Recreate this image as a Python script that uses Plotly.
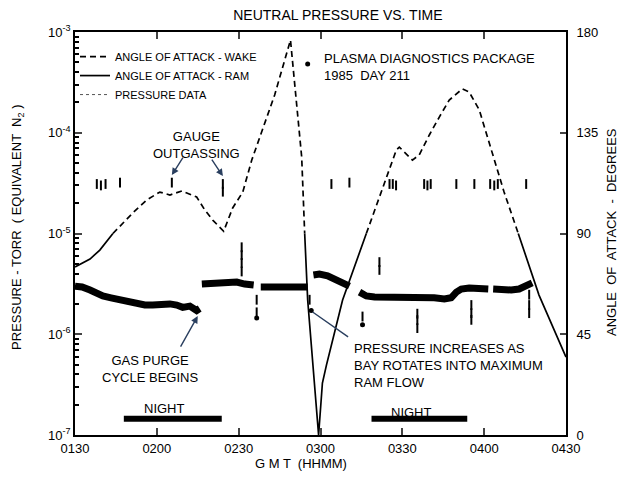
import plotly.graph_objects as go

# ---------------- data ----------------
tick_minutes = [90, 120, 150, 180, 210, 240, 270]
tick_labels = ["0130", "0200", "0230", "0300", "0330", "0400", "0430"]

# angle of attack (degrees) vs GMT minutes after 0000
aoa_time = [90.0, 95.5, 99.1, 101.7, 103.9, 111.2, 116.3, 121.1, 124.8, 129.2,
            134.6, 137.6, 140.5, 144.5, 147.8, 151.5, 154.8, 163.2, 169.0, 171.2,
            173.1, 174.2, 175.3, 179.3, 180.7, 182.2, 188.1, 196.8, 201.6, 207.8,
            208.9, 210.7, 213.7, 216.2, 219.9, 223.6, 227.2, 232.0, 234.5, 238.2,
            242.6, 247.3, 252.5, 260.1, 270.0]
aoa_deg = [75.0, 78.6, 82.6, 86.7, 90.0, 99.2, 105.0, 108.5, 107.2, 109.0,
           106.3, 100.5, 96.0, 91.0, 101.4, 108.5, 122.8, 151.9, 176.4, 149.6,
           124.2, 90.0, 60.3, 0.0, 23.2, 31.3, 60.3, 90.0, 105.9, 127.3,
           128.6, 126.4, 122.8, 125.1, 134.0, 142.1, 149.6, 154.6, 153.2, 145.2,
           127.3, 108.5, 90.0, 62.5, 34.8]

# continuous pressure record (torr), None = gap in record
band_time = [90.0, 92.6, 95.5, 98.0, 100.2, 103.2, 106.5, 109.4, 112.7, 115.6,
             118.5, 121.8, 124.8, 127.3, 129.5, 132.1, 134.6, 135.7, None,
             136.5, 139.4, 143.1, 146.0, 149.3, 152.2, 155.5, None,
             158.1, 161.3, 165.0, 168.7, 172.3, 175.3, None,
             177.4, 179.6, 182.6, 185.1, 187.7, 190.6, None,
             194.3, 196.8, 199.8, 203.4, 207.1, 210.7, 214.4, 218.0, 221.7,
             225.4, 227.9, 229.8, 231.6, 234.5, 238.2, 241.5, None,
             243.3, 246.2, 249.9, 252.8, 255.4, 257.6]
band_p = [3.0e-6, 2.95e-6, 2.75e-6, 2.55e-6, 2.4e-6, 2.3e-6, 2.2e-6, 2.1e-6, 2.0e-6, 1.95e-6,
          1.95e-6, 2.0e-6, 2.0e-6, 1.95e-6, 1.85e-6, 1.9e-6, 1.72e-6, 1.8e-6, None,
          3.15e-6, 3.2e-6, 3.15e-6, 3.3e-6, 3.3e-6, 3.15e-6, 3.08e-6, None,
          2.94e-6, 2.94e-6, 2.94e-6, 2.94e-6, 3.0e-6, 2.94e-6, None,
          3.87e-6, 3.95e-6, 3.8e-6, 3.55e-6, 3.23e-6, 3.0e-6, None,
          2.62e-6, 2.4e-6, 2.34e-6, 2.34e-6, 2.3e-6, 2.34e-6, 2.34e-6, 2.34e-6, 2.3e-6,
          2.24e-6, 2.3e-6, 2.62e-6, 2.81e-6, 2.88e-6, 2.81e-6, 2.81e-6, None,
          2.81e-6, 2.75e-6, 2.75e-6, 2.81e-6, 3.0e-6, 3.23e-6]

# scattered pressure readings (spikes)
spike_time = [98.0, 99.5, 101.2, 106.5, 125.5, 144.2, 144.2, 184.0, 190.6, 205.3,
              206.5, 207.7, 218.0, 219.2, 220.4, 229.8, 236.4, 242.2, 243.7, 245.0, 255.4,
              151.1, 151.1, 151.1, 151.1, 156.6, 156.6, 176.0, 201.6, 201.6,
              195.4, 215.5, 215.5, 215.5, 235.3, 235.3, 235.3, 256.5, 256.5, 256.5]
spike_p = [3.1e-5, 3.0e-5, 3.1e-5, 3.2e-5, 3.2e-5, 3.1e-5, 2.6e-5, 3.1e-5, 3.2e-5, 3.1e-5,
           3.1e-5, 3.0e-5, 3.1e-5, 3.0e-5, 3.1e-5, 3.1e-5, 3.1e-5, 3.1e-5, 3.0e-5, 3.1e-5, 3.1e-5,
           7.3e-6, 6.1e-6, 5.1e-6, 4.2e-6, 2.2e-6, 1.65e-6, 2.2e-6, 5.2e-6, 4.35e-6,
           1.5e-6, 1.6e-6, 1.38e-6, 1.15e-6, 1.95e-6, 1.62e-6, 1.39e-6, 2.47e-6, 1.95e-6, 1.62e-6]
blob_time = [156.6, 176.6, 195.4, 175.3]
blob_p = [1.45e-6, 1.72e-6, 1.24e-6, 4.8e-4]

night_start = [107.9, 198.7]
night_end = [143.8, 233.8]

# ---------------- figure ----------------
ram = [d if d <= 90 else None for d in aoa_deg]
wake = [d if d >= 90 else None for d in aoa_deg]

FONT = "Liberation Sans, Arial, sans-serif"
fig = go.Figure()

fig.add_trace(go.Scatter(x=aoa_time, y=wake, yaxis="y2", mode="lines",
                         name="ANGLE OF ATTACK - WAKE",
                         line=dict(color="black", width=1.7, dash="6px,4px")))
fig.add_trace(go.Scatter(x=aoa_time, y=ram, yaxis="y2", mode="lines",
                         name="ANGLE OF ATTACK - RAM",
                         line=dict(color="black", width=1.7)))
fig.add_trace(go.Scatter(x=[None], y=[None], mode="lines", name="PRESSURE DATA",
                         line=dict(color="#555", width=1, dash="dot")))
fig.add_trace(go.Scatter(x=band_time, y=band_p, mode="lines", showlegend=False,
                         connectgaps=False, line=dict(color="black", width=7)))
fig.add_trace(go.Scatter(x=spike_time, y=spike_p, mode="markers", showlegend=False,
                         marker=dict(symbol="line-ns", size=7, color="black",
                                     line=dict(color="black", width=2))))
fig.add_trace(go.Scatter(x=blob_time, y=blob_p, mode="markers", showlegend=False,
                         marker=dict(symbol="circle", size=5, color="black")))
for s, e in zip(night_start, night_end):
    fig.add_trace(go.Scatter(x=[s, e], y=[1.45e-7, 1.45e-7], mode="lines", showlegend=False,
                             line=dict(color="black", width=6)))

minor_vals = [m * 10.0 ** e for e in range(-7, -3) for m in range(2, 10)]

fig.update_layout(
    width=626, height=478,
    margin=dict(l=67, r=68, t=24, b=51),
    plot_bgcolor="white", paper_bgcolor="white",
    font=dict(family=FONT, size=13, color="black"),
    title=dict(text="NEUTRAL PRESSURE VS. TIME", x=0.527, xanchor="center",
               y=0.985, yanchor="middle", font=dict(size=14)),
    legend=dict(x=0.0, y=0.975, xanchor="left", yanchor="top",
                bgcolor="rgba(0,0,0,0)", font=dict(size=11), itemwidth=30,
                tracegroupgap=0),
    xaxis=dict(range=[90, 270], tickvals=tick_minutes, ticktext=tick_labels,
               ticks="inside", ticklen=7, tickwidth=1.5, showgrid=False, zeroline=False,
               showline=True, linecolor="black", linewidth=1.8, mirror="ticks",
               tickfont=dict(size=13)),
    yaxis=dict(type="log", range=[-7, -3],
               tickvals=[1e-7, 1e-6, 1e-5, 1e-4, 1e-3],
               ticktext=["10<sup>-7</sup>", "10<sup>-6</sup>", "10<sup>-5</sup>",
                         "10<sup>-4</sup>", "10<sup>-3</sup>"],
               ticks="inside", ticklen=7, tickwidth=1.5, showgrid=False, zeroline=False,
               showline=True, linecolor="black", linewidth=1.8,
               minor=dict(tickvals=minor_vals, ticks="inside", ticklen=4,
                          tickcolor="black", showgrid=False),
               tickfont=dict(size=13)),
    yaxis2=dict(range=[0, 180], overlaying="y", side="right",
                tickvals=[0, 45, 90, 135, 180], ticks="inside", ticklen=6,
                tickwidth=1.5, showgrid=False, zeroline=False, showline=True,
                linecolor="black", linewidth=1.8, tickfont=dict(size=13),
                ticklabelstandoff=6),
)

def ann(text, x, y, **kw):
    d = dict(text=text, x=x, y=y, xref="x", yref="y", showarrow=False,
             font=dict(size=13, family=FONT))
    d.update(kw)
    fig.add_annotation(**d)

# axis titles (paper = plot area)
fig.add_annotation(text="G M T  (HHMM)", x=0.46, y=-0.07, xref="paper",
                   yref="paper", showarrow=False, font=dict(size=13),
                   xanchor="center", yanchor="middle")
fig.add_annotation(text="PRESSURE - TORR  ( EQUIVALENT  N<sub>2</sub> )", x=-0.116,
                   y=0.514, xref="paper", yref="paper", showarrow=False,
                   textangle=-90, font=dict(size=13), xanchor="center", yanchor="middle")
fig.add_annotation(text="ANGLE  OF  ATTACK  -  DEGREES", x=1.094,
                   y=0.504, xref="paper", yref="paper", showarrow=False,
                   textangle=-90, font=dict(size=13), xanchor="center", yanchor="middle")

# text notes
ann("GAUGE<br>OUTGASSING", 134.6, -4.117)
fig.add_annotation(x=125.5, y=-4.42, xref="x", yref="y", text="", showarrow=True,
                   arrowhead=2, arrowsize=1, arrowwidth=1.4, ax=12, ay=-19)
fig.add_annotation(x=144.2, y=-4.43, xref="x", yref="y", text="", showarrow=True,
                   arrowhead=2, arrowsize=1, arrowwidth=1.4, ax=-12, ay=-18)
ann("GAS PURGE<br>CYCLE BEGINS", 117.4, -6.345)
fig.add_annotation(x=135.0, y=-5.82, xref="x", yref="y", text="", showarrow=True,
                   arrowhead=2, arrowsize=1, arrowwidth=1.4, ax=-18, ay=32)
ann("PRESSURE INCREASES AS<br>BAY ROTATES INTO MAXIMUM<br>RAM FLOW", 191.4, -6.315,
    xanchor="left", align="left")
fig.add_annotation(x=177.1, y=-5.779, xref="x", yref="y", text="", showarrow=True,
                   arrowhead=0, arrowwidth=1.4, ax=37, ay=26, standoff=0)
ann("PLASMA DIAGNOSTICS PACKAGE<br>1985  DAY 211", 180.4, -3.352,
    xanchor="left", align="left")
ann("NIGHT", 122.9, -6.732)
ann("NIGHT", 213.3, -6.772)

fig.write_html("out.html")
